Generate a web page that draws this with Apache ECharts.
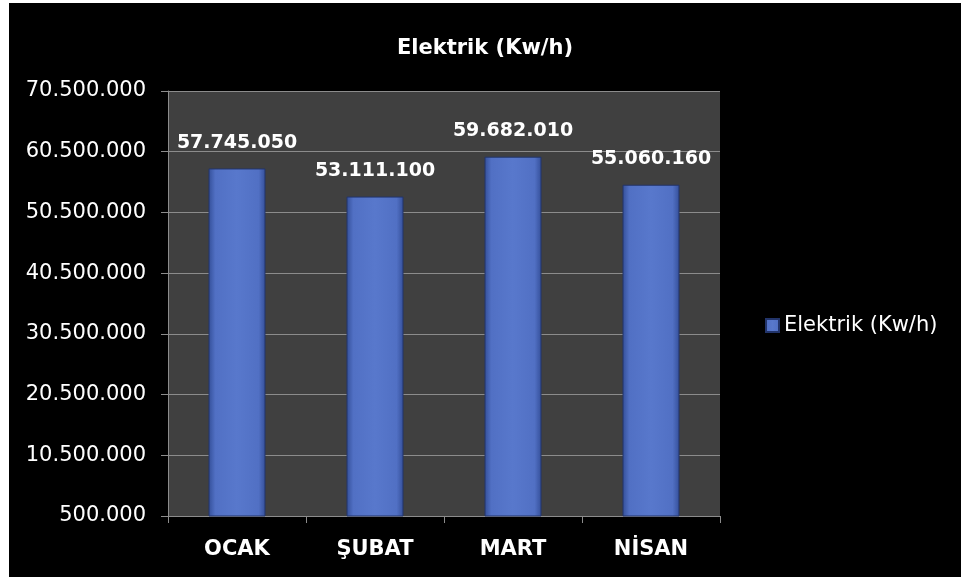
<!DOCTYPE html>
<html>
<head>
<meta charset="utf-8">
<script src="https://cdn.jsdelivr.net/npm/echarts@6/dist/echarts.min.js"></script>
<style>
  html, body { margin: 0; padding: 0; background: #ffffff; width: 961px; height: 577px; overflow: hidden; }
  #chart { position: absolute; left: 9px; top: 3px; width: 952px; height: 574px; background: #000000; }
</style>
</head>
<body>
<div id="chart"></div>
<script>
const categories = ['OCAK', 'ŞUBAT', 'MART', 'NİSAN'];
const seriesName = 'Elektrik (Kw/h)';
const values = [57745050, 53111100, 59682010, 55060160];
const yMin = 500000;
const yMax = 70500000;
const yInterval = 10000000;

function fmt(v) {
  return String(Math.round(v)).replace(/\B(?=(\d{3})+(?!\d))/g, '.');
}

const chart = echarts.init(document.getElementById('chart'), null, { renderer: 'canvas' });
const font = '"DejaVu Sans", sans-serif';

chart.setOption({
  backgroundColor: '#000000',
  animation: false,
  title: {
    text: seriesName,
    left: 'center',
    top: 30,
    textStyle: { color: '#ffffff', fontFamily: font, fontWeight: 'bold', fontSize: 21 }
  },
  legend: {
    orient: 'vertical',
    left: 751,
    top: 307,
    itemWidth: 13,
    itemHeight: 13,
    itemGap: 10,
    icon: 'rect',
    textStyle: { color: '#ffffff', fontFamily: font, fontSize: 21 },
    data: [seriesName]
  },
  grid: {
    left: 159,
    top: 88,
    width: 552,
    height: 425,
    show: true,
    backgroundColor: '#404040',
    borderWidth: 0
  },
  xAxis: {
    type: 'category',
    data: categories,
    axisLine: { show: true, lineStyle: { color: '#8c8c8c', width: 1 } },
    axisTick: { show: true, length: 7, lineStyle: { color: '#8c8c8c' } },
    axisLabel: { color: '#ffffff', fontFamily: font, fontWeight: 'bold', fontSize: 21, margin: 23 },
    splitLine: { show: false }
  },
  yAxis: {
    type: 'value',
    min: yMin,
    max: yMax,
    interval: yInterval,
    axisLine: { show: true, lineStyle: { color: '#8c8c8c', width: 1 } },
    axisTick: { show: true, length: 7, lineStyle: { color: '#8c8c8c' } },
    axisLabel: { color: '#ffffff', fontFamily: font, fontSize: 21, margin: 22, formatter: fmt },
    splitLine: { show: true, lineStyle: { color: '#8c8c8c', width: 1 } }
  },
  series: [{
    name: seriesName,
    type: 'bar',
    data: values,
    barWidth: 57,
    itemStyle: {
      color: new echarts.graphic.LinearGradient(0, 0, 1, 0, [
        { offset: 0, color: '#344f99' },
        { offset: 0.12, color: '#5170c4' },
        { offset: 0.5, color: '#5878cc' },
        { offset: 0.88, color: '#5170c4' },
        { offset: 1, color: '#344f99' }
      ]),
      borderColor: '#22346a',
      borderWidth: 1
    },
    label: {
      show: true,
      position: 'top',
      distance: 16,
      color: '#ffffff',
      fontFamily: font,
      fontWeight: 'bold',
      fontSize: 19,
      formatter: p => fmt(p.value)
    }
  }]
});
</script>
</body>
</html>
